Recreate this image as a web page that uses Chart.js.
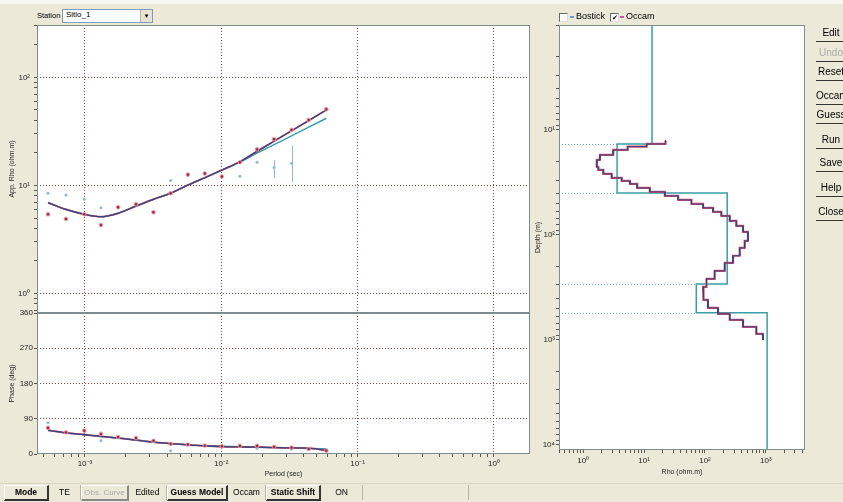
<!DOCTYPE html>
<html>
<head>
<meta charset="utf-8">
<script src="https://cdn.jsdelivr.net/npm/chart.js@4.4.0/dist/chart.umd.min.js"></script>
<style>
html, body { margin: 0; padding: 0; }
body {
    width: 843px; height: 502px; overflow: hidden; position: relative;
    background: #ece9d8; color: #000;
    font-family: "Liberation Sans", Arial, sans-serif; font-size: 9px;
}
.abs { position: absolute; white-space: nowrap; }
canvas { position: absolute; }
.topstrip { left: 0; top: 0; width: 843px; height: 4px; background: #f7f6f1; }
.combo { left: 62px; top: 9px; width: 89px; height: 12px; background: #fff;
    border: 1px solid #7f9db9; }
.combo span { position: absolute; left: 3px; top: 0px; font-size: 8px; }
.combo .arr { position: absolute; right: 0; top: 0; width: 11px; height: 12px;
    background: #e6e3d3; border-left: 1px solid #b8b4a0; font-size: 6px; text-align: center; line-height: 12px; }
.chk { width: 7px; height: 7px; background: #fff; border-top: 1px solid #666; border-left: 1px solid #666;
    border-bottom: 1px solid #ddd; border-right: 1px solid #ddd; font-size: 7px; line-height: 7px; text-align: center; }
.sidebtn { left: 816px; width: 30px; height: 16px; line-height: 15px; text-align: center; overflow: hidden;
    border-bottom: 1px solid #333; border-right: 1px solid #777; font-size: 10px; }
.bar { left: 0; top: 483px; width: 843px; height: 17px; border-top: 1px solid #d8d4c0; }
.cell { position: absolute; top: 1px; height: 15px; line-height: 15px; text-align: center; overflow: hidden;
    border-right: 1px solid #b9b5a2; font-size: 8.5px; }
.raised { border-top: 1px solid #fff; border-left: 1px solid #fff; border-bottom: 2px solid #333;
    border-right: 2px solid #333; height: 13px; line-height: 13px; font-weight: bold; }
.dis { color: #a8a8a8; font-weight: normal; font-size: 8px; border-bottom-color: #888; border-right-color: #888; }
</style>
</head>
<body>
<div class="abs topstrip"></div>

<div class="abs" style="left:37px;top:11px;font-size:7.5px;">Station</div>
<div class="abs combo"><span>Sitio_1</span><div class="arr">&#9660;</div></div>

<canvas id="rhoChart" width="540" height="313" style="left:0;top:0;width:540px;height:313px"></canvas>
<canvas id="phaseChart" width="540" height="180" style="left:0;top:303px;width:540px;height:180px"></canvas>
<canvas id="depthChart" width="290" height="483" style="left:530px;top:0;width:290px;height:483px"></canvas>

<div class="abs chk" style="left:559px;top:13px"></div>
<div class="abs" style="left:570px;top:11px;font-size:9px;"><span style="display:inline-block;width:4px;height:2px;background:#6a9ad8;vertical-align:middle;margin-right:2px"></span>Bostick</div>
<div class="abs chk" style="left:610px;top:13px">&#10004;</div>
<div class="abs" style="left:620px;top:11px;font-size:9px;"><span style="display:inline-block;width:4px;height:2px;background:#d050b0;vertical-align:middle;margin-right:2px"></span>Occam</div>

<div class="abs sidebtn" style="top:25px">Edit</div>
<div class="abs sidebtn" style="top:45px;color:#aaa">Undo</div>
<div class="abs sidebtn" style="top:64px">Reset</div>
<div class="abs sidebtn" style="top:88px">Occam</div>
<div class="abs sidebtn" style="top:107px">Guess</div>
<div class="abs sidebtn" style="top:132px">Run</div>
<div class="abs sidebtn" style="top:155px">Save</div>
<div class="abs sidebtn" style="top:180px">Help</div>
<div class="abs sidebtn" style="top:204px">Close</div>

<div class="abs bar">
    <div class="cell raised" style="left:4px;width:42px">Mode</div>
    <div class="cell" style="left:49px;width:31px">TE</div>
    <div class="cell raised dis" style="left:81px;width:45px">Obs. Curve</div>
    <div class="cell" style="left:129px;width:37px">Edited</div>
    <div class="cell raised" style="left:167px;width:58px">Guess Model</div>
    <div class="cell" style="left:228px;width:37px">Occam</div>
    <div class="cell raised" style="left:266px;width:52px">Static Shift</div>
    <div class="cell" style="left:321px;width:41px">ON</div>
    <div class="cell" style="left:363px;width:105px"></div>
    <div class="cell" style="left:469px;width:373px;border-right:none"></div>
</div>

<script>
// ---- sounding data ----
const periods = [0.000536, 0.000726, 0.000989, 0.00131, 0.00175, 0.00237, 0.00318, 0.00425, 0.00569,
                 0.00757, 0.0101, 0.0137, 0.0183, 0.0244, 0.0328, 0.0438, 0.0590];
const rhoObs = [5.41, 4.90, 5.41, 4.30, 6.28, 6.70, 5.65, 8.47, 12.6, 12.9, 12.1, 16.4, 21.6, 26.8, 32.7, 40.4, 50.8];
const rhoAlt = [8.47, 8.16, 7.45, 6.22, null, null, null, 11.1, null, null, null, 12.2, 16.4, 14.7, 16.1, null, null];
const rhoAltLo = [null, null, null, null, null, null, null, null, null, null, null, null, null, 11.7, 10.8, null, null];
const rhoAltHi = [null, null, null, null, null, null, null, null, null, null, null, null, null, 17.2, 23.4, null, null];
const rhoOccam = [6.93, 6.00, 5.41, 5.14, 5.53, 6.45, 7.45, 8.47, 10.1, 11.8, 13.9, 16.6, 20.7, 25.7, 32.1, 39.9, 50.0];
const rhoModel = [6.93, 6.00, 5.41, 5.14, 5.53, 6.45, 7.45, 8.47, 10.1, 11.8, 13.9, 16.5, 19.9, 23.9, 28.8, 34.7, 41.9];

const phaseObs = [66.6, 55.2, 59.6, 51.0, 43.3, 40.7, 33.7, 25.9, 24.1, 21.5, 19.9, 20.7, 20.7, 18.1, 16.3, 13.0, 8.5];
const phaseAlt = [79.5, null, null, 33.7, null, null, null, 8.5, null, null, null, null, 14.8, null, 12.0, null, null];
const phaseOccam = [60.4, 53.9, 49.2, 44.8, 40.7, 35.5, 30.3, 26.7, 23.3, 21.0, 18.9, 18.1, 17.4, 16.3, 15.5, 15.0, 9.0];
const phaseModel = [60.4, 53.9, 49.2, 44.8, 40.7, 35.5, 30.3, 26.7, 23.3, 21.0, 19.5, 18.6, 17.6, 16.3, 15.0, 14.0, 13.2];

// ---- layered models (depth in m, rho in ohm.m) ----
const modelDepths = [0.9, 13.6, 39.8, 293, 553, 20000];
const modelRho = [13.5, 3.6, 232, 72, 1050];
const occamDepths = [12.6, 13.6, 14.4, 15.5, 17.3, 19.3, 22.5, 24.0, 26.2, 28.6, 30.6, 32.7, 35.7, 38.9, 42.5, 46.4,
                     50.7, 55.3, 60.4, 65.9, 73.6, 82.1, 93.6, 114, 133, 158, 185, 220, 262, 313, 357, 416, 496,
                     565, 645, 752, 877, 1000];
const occamRho = [22.5, 11.0, 5.36, 3.11, 1.88, 1.67, 1.77, 2.14, 2.93, 4.28, 5.85, 7.70, 12.4, 21.9, 36.3, 60.0,
                  93.0, 136, 186, 255, 328, 422, 508, 449, 372, 289, 211, 144, 106, 93.0, 95.5, 112, 164, 255,
                  422, 699, 897];

// ---- axis ranges ----
const PERIOD_MIN = 0.000445, PERIOD_MAX = 1.84;
const RHO_MIN = 0.66, RHO_MAX = 306;
const DEPTH_MIN = 1, DEPTH_MAX = 11200;
const MRHO_MIN = 0.4, MRHO_MAX = 4400;

const FONT = { family: '"Liberation Sans", Arial, sans-serif', size: 8 };
const TITLE_FONT = { family: '"Liberation Sans", Arial, sans-serif', size: 7 };
const GRID_RED = '#8a4646';
const FRAME = '#7d8c8c';
const TEAL = '#3a9ea6';
const RED = '#d8506a';
const NAVY = '#34457f';

const SUP = { '-': '\u207B', '0': '\u2070', '1': '\u00B9', '2': '\u00B2', '3': '\u00B3', '4': '\u2074' };
function isDecade(v) { const l = Math.log10(v); return Math.abs(l - Math.round(l)) < 1e-6; }
function decadeLabel(v) {
    const e = String(Math.round(Math.log10(v)));
    return '10' + e.split('').map(c => SUP[c]).join('');
}
function logTicks(min, max) {
    const out = [];
    for (let e = Math.floor(Math.log10(min)); e <= Math.ceil(Math.log10(max)); e++) {
        for (let m = 1; m <= 9; m++) {
            const v = m * Math.pow(10, e);
            if (v >= min * 0.9999 && v <= max * 1.0001) out.push({ value: v });
        }
    }
    return out;
}
// fixed axis size, and no extra room for edge labels
function fixSize(w, h) {
    return s => {
        if (w !== null) s.width = w;
        if (h !== null) s.height = h;
        s.paddingTop = 0; s.paddingBottom = 0; s.paddingLeft = 0; s.paddingRight = 0;
    };
}
function pts(xs, ys) {
    return xs.map((x, i) => ({ x: x, y: ys[i] })).filter(p => p.y !== null);
}
function stairs(depths, rhos) {
    const out = [];
    rhos.forEach((r, i) => { out.push({ x: r, y: depths[i] }); out.push({ x: r, y: depths[i + 1] }); });
    return out;
}

// white plot area + grey frame
const framePlugin = {
    id: 'frame',
    beforeDraw(chart) {
        const a = chart.chartArea, ctx = chart.ctx;
        ctx.save();
        ctx.fillStyle = '#fff';
        ctx.fillRect(a.left, a.top, a.right - a.left, a.bottom - a.top);
        ctx.restore();
    },
    afterDraw(chart) {
        const a = chart.chartArea, ctx = chart.ctx;
        ctx.save();
        ctx.strokeStyle = FRAME;
        ctx.lineWidth = 1;
        ctx.strokeRect(a.left + 0.5, a.top + 0.5, a.right - a.left - 1, a.bottom - a.top - 1);
        ctx.restore();
    }
};

// vertical error bars on the light blue points
const errorBarPlugin = {
    id: 'errorBars',
    afterDatasetsDraw(chart) {
        const xs = chart.scales.x, ys = chart.scales.y, ctx = chart.ctx;
        ctx.save();
        ctx.strokeStyle = '#8fb6dc';
        ctx.lineWidth = 1;
        periods.forEach((p, i) => {
            if (rhoAltLo[i] === null) return;
            const x = Math.round(xs.getPixelForValue(p)) + 0.5;
            ctx.beginPath();
            ctx.moveTo(x, ys.getPixelForValue(rhoAltLo[i]));
            ctx.lineTo(x, ys.getPixelForValue(rhoAltHi[i]));
            ctx.stroke();
        });
        ctx.restore();
    }
};

// dotted interface lines of the layered model
const interfacePlugin = {
    id: 'interfaces',
    beforeDatasetsDraw(chart) {
        const xs = chart.scales.x, ys = chart.scales.y, ctx = chart.ctx;
        ctx.save();
        ctx.strokeStyle = '#6aa8cc';
        ctx.lineWidth = 1;
        ctx.setLineDash([1, 2]);
        for (let i = 1; i < modelRho.length; i++) {
            const y = Math.round(ys.getPixelForValue(modelDepths[i])) + 0.5;
            const xEnd = xs.getPixelForValue(Math.min(modelRho[i - 1], modelRho[i]));
            ctx.beginPath();
            ctx.moveTo(chart.chartArea.left, y);
            ctx.lineTo(xEnd, y);
            ctx.stroke();
        }
        ctx.restore();
    }
};

function periodAxis(withLabels) {
    return {
        type: 'logarithmic', position: 'bottom', min: PERIOD_MIN, max: PERIOD_MAX,
        afterBuildTicks: s => { s.ticks = logTicks(PERIOD_MIN, PERIOD_MAX); },
        afterFit: fixSize(null, withLabels ? 29 : 0),
        grid: {
            color: c => (c.tick && isDecade(c.tick.value)) ? GRID_RED : 'rgba(0,0,0,0)',
            drawTicks: withLabels, tickLength: 3, tickColor: '#555', lineWidth: 1
        },
        border: { display: false, dash: [1, 2] },
        ticks: {
            display: withLabels, autoSkip: false, maxRotation: 0, padding: 2, font: FONT, color: '#222',
            callback: v => isDecade(v) ? decadeLabel(v) : ''
        },
        title: { display: withLabels, text: 'Period (sec)', font: TITLE_FONT, color: '#222', padding: { top: 0, bottom: 5 } }
    };
}

function lineSet(data, color, width) {
    return { data: data, showLine: true, borderColor: color, borderWidth: width, pointRadius: 0,
             cubicInterpolationMode: 'monotone', fill: false };
}
function pointSet(data, fill, border, radius, bw) {
    return { data: data, showLine: false, pointRadius: radius, pointBackgroundColor: fill,
             pointBorderColor: border, pointBorderWidth: bw };
}

const baseOptions = {
    responsive: false, animation: false,
    plugins: { legend: { display: false }, tooltip: { enabled: false } }
};

new Chart(document.getElementById('rhoChart'), {
    type: 'scatter',
    data: {
        datasets: [
            pointSet(pts(periods, rhoObs), '#a02a3c', 'rgba(235,160,170,0.75)', 1.8, 1.2),
            lineSet(pts(periods, rhoOccam), NAVY, 1.3),
            lineSet(pts(periods, rhoOccam), RED, 1.8),
            lineSet(pts(periods, rhoModel), TEAL, 1.5),
            pointSet(pts(periods, rhoAlt), '#8fb6dc', '#8fb6dc', 1.5, 0)
        ]
    },
    options: {
        ...baseOptions,
        layout: { autoPadding: false, padding: { top: 25, right: 10, bottom: 0, left: 0 } },
        scales: {
            x: periodAxis(false),
            y: {
                type: 'logarithmic', min: RHO_MIN, max: RHO_MAX,
                afterBuildTicks: s => { s.ticks = logTicks(RHO_MIN, RHO_MAX); },
                afterFit: fixSize(37, null),
                grid: {
                    color: c => (c.tick && isDecade(c.tick.value)) ? GRID_RED : 'rgba(0,0,0,0)',
                    tickLength: 3, tickColor: '#555'
                },
                border: { display: false, dash: [1, 2] },
                ticks: { autoSkip: false, padding: 4, font: FONT, color: '#222',
                         callback: v => isDecade(v) ? decadeLabel(v) : '' },
                title: { display: true, text: 'App. Rho (ohm.m)', font: TITLE_FONT, color: '#222',
                         padding: { top: 8, bottom: 0 } }
            }
        }
    },
    plugins: [framePlugin, errorBarPlugin]
});

new Chart(document.getElementById('phaseChart'), {
    type: 'scatter',
    data: {
        datasets: [
            pointSet(pts(periods, phaseObs), '#a02a3c', 'rgba(235,160,170,0.75)', 1.8, 1.2),
            lineSet(pts(periods, phaseOccam), NAVY, 1.3),
            lineSet(pts(periods, phaseOccam), RED, 1.8),
            lineSet(pts(periods, phaseModel), TEAL, 1.5),
            pointSet(pts(periods, phaseAlt), '#8fb6dc', '#8fb6dc', 1.5, 0)
        ]
    },
    options: {
        ...baseOptions,
        layout: { autoPadding: false, padding: { top: 10, right: 10, bottom: 0, left: 0 } },
        scales: {
            x: periodAxis(true),
            y: {
                type: 'linear', min: 0, max: 360,
                afterBuildTicks: s => { s.ticks = [0, 90, 180, 270, 360].map(v => ({ value: v })); },
                afterFit: fixSize(37, null),
                grid: {
                    color: c => (c.tick && c.tick.value > 0 && c.tick.value < 360) ? GRID_RED : 'rgba(0,0,0,0)',
                    tickLength: 3, tickColor: '#555'
                },
                border: { display: false, dash: [1, 2] },
                ticks: { autoSkip: false, padding: 1, font: FONT, color: '#222' },
                title: { display: true, text: 'Phase (deg)', font: TITLE_FONT, color: '#222',
                         padding: { top: 8, bottom: 0 } }
            }
        }
    },
    plugins: [framePlugin]
});

new Chart(document.getElementById('depthChart'), {
    type: 'scatter',
    data: {
        datasets: [
            { data: stairs(occamDepths, occamRho), showLine: true, borderColor: NAVY, borderWidth: 1, pointRadius: 0 },
            { data: stairs(occamDepths, occamRho), showLine: true, borderColor: RED, borderWidth: 2.2, pointRadius: 0 },
            { data: stairs(modelDepths, modelRho), showLine: true, borderColor: TEAL, borderWidth: 1.5, pointRadius: 0 }
        ]
    },
    options: {
        ...baseOptions,
        layout: { autoPadding: false, padding: { top: 25, right: 15, bottom: 0, left: 0 } },
        scales: {
            x: {
                type: 'logarithmic', position: 'bottom', min: MRHO_MIN, max: MRHO_MAX,
                afterBuildTicks: s => { s.ticks = logTicks(MRHO_MIN, MRHO_MAX); },
                afterFit: fixSize(null, 33),
                grid: { drawOnChartArea: false, tickLength: 3, tickColor: '#555' },
                border: { display: false },
                ticks: { autoSkip: false, maxRotation: 0, padding: 3, font: FONT, color: '#222',
                         callback: v => isDecade(v) ? decadeLabel(v) : '' },
                title: { display: true, text: 'Rho (ohm.m)', font: TITLE_FONT, color: '#222',
                         padding: { top: 0, bottom: 7 } }
            },
            y: {
                type: 'logarithmic', reverse: true, min: DEPTH_MIN, max: DEPTH_MAX,
                afterBuildTicks: s => { s.ticks = logTicks(DEPTH_MIN, DEPTH_MAX); },
                afterFit: fixSize(29, null),
                grid: { drawOnChartArea: false, tickLength: 3, tickColor: '#555' },
                border: { display: false },
                ticks: { autoSkip: false, padding: 1, font: FONT, color: '#222',
                         callback: v => (isDecade(v) && v > DEPTH_MIN * 1.01) ? decadeLabel(v) : '' },
                title: { display: true, text: 'Depth (m)', font: TITLE_FONT, color: '#222',
                         padding: { top: 4, bottom: 0 } }
            }
        }
    },
    plugins: [framePlugin, interfacePlugin]
});
</script>
</body>
</html>
